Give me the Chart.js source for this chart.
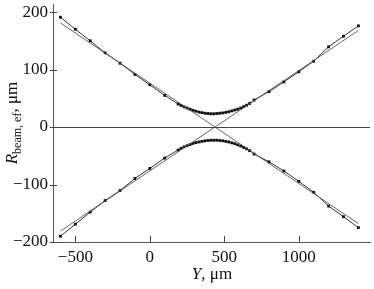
<!DOCTYPE html>
<html>
<head>
<meta charset="utf-8">
<script src="https://cdn.jsdelivr.net/npm/chart.js@4/dist/chart.umd.min.js"></script>
<style>
  html, body { margin: 0; padding: 0; background: #fff; }
  canvas { display: block; }
</style>
</head>
<body>
<canvas id="beamChart" width="374" height="289"></canvas>
<script>
// ---- data ----
const yMicron = [-600, -500, -400, -300, -200, -100, 0, 100,
  190, 210, 230, 250, 270, 290, 310, 330, 350, 370, 390, 410, 430, 450, 470, 490,
  510, 530, 550, 570, 590, 610, 630, 650, 670,
  700, 800, 900, 1000, 1100, 1200, 1300, 1400];
const rTop = [191, 170, 150, 129, 111, 91.5, 73.5, 55,
  40, 37.5, 35, 33, 31, 29, 27.5, 26, 25, 24, 23.5, 23, 23, 23.5, 24, 24.5,
  25.5, 26.5, 28, 29.5, 31, 33, 35.5, 38, 41,
  47, 61.5, 78.5, 96, 114.5, 139.5, 158, 176];
const rBottom = [-190, -169, -148, -128, -110.5, -89.5, -72, -54,
  -40, -37, -34.5, -32.5, -30.5, -28.5, -27, -26, -25, -24, -23.5, -23, -23, -23, -23.5, -24,
  -25, -26, -27.5, -29, -31, -33, -35.5, -38, -41,
  -47, -60.5, -76.5, -94.5, -113.5, -137.5, -156, -175];
// asymptote lines (end points)
const asymX = [-600, 1400];
const asymDown = [181, -168];
const asymUp = [-181, 168];

const xTicks = [-500, 0, 500, 1000];
const yTicks = [-200, -100, 0, 100, 200];

const FONT = "'Liberation Serif', 'DejaVu Serif', serif";

function pts(xs, ys) {
  return xs.map((x, i) => ({ x: x, y: ys[i] }));
}

// tick text with a real minus sign, no thousands separator
function tickText(v) {
  return String(v).replace("-", "\u2212");
}

// axes decorations + labels
const decor = {
  id: "decor",
  afterDraw(chart) {
    const { ctx, chartArea: a, scales } = chart;
    const xs = scales.x, ys = scales.y;
    ctx.save();
    ctx.strokeStyle = "#444";
    ctx.lineWidth = 1;
    // zero line
    const y0 = Math.round(ys.getPixelForValue(0)) + 0.5;
    ctx.beginPath();
    ctx.moveTo(a.left, y0);
    ctx.lineTo(a.right, y0);
    ctx.stroke();
    // x ticks (inward)
    xTicks.forEach((v) => {
      const px = Math.round(xs.getPixelForValue(v)) + 0.5;
      ctx.beginPath();
      ctx.moveTo(px, a.bottom);
      ctx.lineTo(px, a.bottom - 6);
      ctx.stroke();
    });
    // y ticks
    yTicks.forEach((v) => {
      const py = Math.round(ys.getPixelForValue(v)) + 0.5;
      ctx.beginPath();
      ctx.moveTo(a.left - 3, py);
      ctx.lineTo(a.left + 4, py);
      ctx.stroke();
    });

    ctx.fillStyle = "#111";
    // x title: "Y, μm"
    ctx.textBaseline = "alphabetic";
    ctx.font = "italic 17px " + FONT;
    const w1 = ctx.measureText("Y").width;
    ctx.font = "17px " + FONT;
    const w2 = ctx.measureText(", μm").width;
    let sx = 212 - (w1 + w2) / 2;
    ctx.font = "italic 17px " + FONT;
    ctx.fillText("Y", sx, 279);
    ctx.font = "17px " + FONT;
    ctx.fillText(", μm", sx + w1, 279);

    // y title: R_beam, ef, μm (rotated)
    ctx.translate(17, 123);
    ctx.rotate(-Math.PI / 2);
    ctx.font = "italic 17px " + FONT;
    const rW = ctx.measureText("R").width;
    ctx.font = "12px " + FONT;
    const sW = ctx.measureText("beam, ef").width;
    ctx.font = "17px " + FONT;
    const uW = ctx.measureText(", μm").width;
    let tx = -(rW + sW + uW) / 2;
    ctx.font = "italic 17px " + FONT;
    ctx.fillText("R", tx, 0);
    ctx.font = "12px " + FONT;
    ctx.fillText("beam, ef", tx + rW, 4);
    ctx.font = "17px " + FONT;
    ctx.fillText(", μm", tx + rW + sW, 0);
    ctx.restore();
  },
};

const lineStyle = { showLine: true, borderWidth: 1, fill: false, tension: 0 };

new Chart(document.getElementById("beamChart"), {
  type: "scatter",
  data: {
    datasets: [
      { ...lineStyle, data: pts(asymX, asymDown), borderColor: "#555", pointRadius: 0, borderWidth: 0.9 },
      { ...lineStyle, data: pts(asymX, asymUp), borderColor: "#555", pointRadius: 0, borderWidth: 0.9 },
      { ...lineStyle, data: pts(yMicron, rTop), borderColor: "#333", pointStyle: "rect",
        pointRadius: 2, pointBackgroundColor: "#111", pointBorderWidth: 0 },
      { ...lineStyle, data: pts(yMicron, rBottom), borderColor: "#333", pointStyle: "rect",
        pointRadius: 2, pointBackgroundColor: "#111", pointBorderWidth: 0 },
    ],
  },
  options: {
    responsive: false,
    animation: false,
    events: [],
    layout: { padding: 0 },
    plugins: { legend: { display: false }, tooltip: { enabled: false } },
    scales: {
      x: {
        type: "linear",
        min: -650,
        max: 1478,
        grid: { display: false, drawTicks: false },
        border: { display: true, color: "#555", width: 1 },
        ticks: { color: "#111", font: { family: FONT, size: 17 }, padding: 5, maxRotation: 0,
          callback: tickText },
        afterBuildTicks: (s) => { s.ticks = xTicks.map((v) => ({ value: v })); },
        afterFit: (s) => {
          s.height = 47;
          s.paddingLeft = 0; s.paddingRight = 0; s.paddingTop = 0; s.paddingBottom = 0;
        },
      },
      y: {
        type: "linear",
        min: -200,
        max: 214,
        grid: { display: false, drawTicks: false },
        border: { display: true, color: "#555", width: 1 },
        ticks: { color: "#111", font: { family: FONT, size: 17 }, padding: 5, callback: tickText },
        afterBuildTicks: (s) => { s.ticks = yTicks.map((v) => ({ value: v })); },
        afterFit: (s) => {
          s.width = 53;
          s.paddingLeft = 0; s.paddingRight = 0; s.paddingTop = 0; s.paddingBottom = 0;
        },
      },
    },
  },
  plugins: [decor],
});
</script>
</body>
</html>
